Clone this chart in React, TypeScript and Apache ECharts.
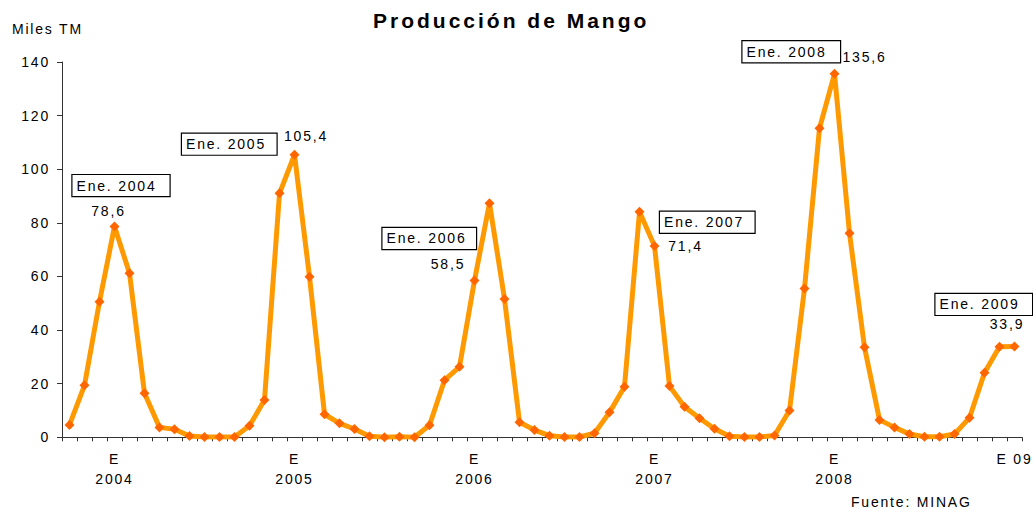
import { useEffect, useRef } from 'react';
import * as echarts from 'echarts';

const FONT = '"Liberation Sans", Arial, Helvetica, sans-serif';

// Categories: monthly, Oct 2003 .. Jan 2009
const monthNames = ['Ene', 'Feb', 'Mar', 'Abr', 'May', 'Jun', 'Jul', 'Ago', 'Set', 'Oct', 'Nov', 'Dic'];
const categories: string[] = [
  'Oct 2003', 'Nov 2003', 'Dic 2003',
  ...monthNames.map((m) => m + ' 2004'),
  ...monthNames.map((m) => m + ' 2005'),
  ...monthNames.map((m) => m + ' 2006'),
  ...monthNames.map((m) => m + ' 2007'),
  ...monthNames.map((m) => m + ' 2008'),
  'Ene 2009',
];

// Production (miles TM)
const values2003 = [4.6, 19.4, 50.6];
const values2004 = [78.6, 61.2, 16.4, 3.7, 3.0, 0.5, 0.1, 0.1, 0.1, 4.3, 13.9, 91.0];
const values2005 = [105.4, 59.9, 8.6, 5.2, 3.1, 0.4, 0.0, 0.2, 0.0, 4.5, 21.3, 26.3];
const values2006 = [58.5, 87.3, 51.6, 5.6, 2.7, 0.6, 0.1, 0.1, 1.5, 9.3, 18.9, 84.1];
const values2007 = [71.4, 19.1, 11.4, 7.1, 3.2, 0.4, 0.1, 0.1, 0.7, 10.0, 55.5, 115.3];
const values2008 = [135.6, 76.1, 33.6, 6.5, 3.7, 1.2, 0.2, 0.2, 1.2, 7.3, 24.1, 33.8];
const values2009 = [33.9];
const values = [...values2003, ...values2004, ...values2005, ...values2006, ...values2007, ...values2008, ...values2009];

// X tick labels
const tickCategories = ['Ene 2004', 'Ene 2005', 'Ene 2006', 'Ene 2007', 'Ene 2008', 'Ene 2009'];
const tickLabels = ['E\n2004', 'E\n2005', 'E\n2006', 'E\n2007', 'E\n2008', 'E 09'];

// Annotations
const annotationCategories = ['Ene 2004', 'Ene 2005', 'Ene 2006', 'Ene 2007', 'Ene 2008', 'Ene 2009'];
const annotationTexts = ['Ene. 2004', 'Ene. 2005', 'Ene. 2006', 'Ene. 2007', 'Ene. 2008', 'Ene. 2009'];

// layout of annotation boxes/labels (pixel offsets from the point)
const boxOffsets: [number, number][] = [[-42, -41], [-112.5, -10.6], [-92, -42], [5.5, -23.6], [-92, -22], [-79, -42]];
const boxWidths = [97, 94.5, 93.5, 94.5, 97.5, 96.5];
const valueOffsets: [number, number][] = [[-6, -15.6], [11.5, -19], [-26.5, -16.7], [31, 0], [30, -16.4], [-7.5, -22]];

const fmt = (v: number) => v.toFixed(1).replace('.', ',');

export default function App() {
  const ref = useRef<HTMLDivElement>(null);

  useEffect(() => {
    const chart = echarts.init(ref.current!, null, { renderer: 'svg' });

    const seriesData = values.map((v, i) => {
      const k = annotationCategories.indexOf(categories[i]);
      if (k < 0) return v;
      return {
        value: v,
        label: {
          show: true,
          position: 'inside',
          align: 'center',
          verticalAlign: 'middle',
          offset: valueOffsets[k],
          formatter: () => fmt(v),
          fontSize: 14,
          color: '#000',
          fontFamily: FONT,
        },
      };
    });

    const boxes = annotationCategories.map((c, k) => ({
      coord: [c, values[categories.indexOf(c)]],
      label: {
        show: true,
        position: 'inside',
        formatter: annotationTexts[k],
        align: 'left',
        verticalAlign: 'middle',
        offset: boxOffsets[k],
        width: boxWidths[k] - 4,
        lineHeight: 15,
        padding: [4, 0, 2, 4],
        backgroundColor: '#fff',
        borderColor: '#000',
        borderWidth: 1.2,
        fontSize: 14,
        color: '#000',
        fontFamily: FONT,
      },
    }));

    chart.setOption({
      animation: false,
      backgroundColor: '#fff',
      textStyle: { fontFamily: FONT },
      title: [
        {
          text: 'Producción de Mango',
          left: 373,
          top: 10,
          padding: 0,
          textStyle: { fontSize: 21, fontWeight: 'bold', color: '#000', fontFamily: FONT },
        },
        {
          text: 'Miles TM',
          left: 12,
          top: 22,
          padding: 0,
          textStyle: { fontSize: 14, fontWeight: 'normal', color: '#000', fontFamily: FONT },
        },
        {
          text: 'Fuente: MINAG',
          left: 851,
          top: 495,
          padding: 0,
          textStyle: { fontSize: 14, fontWeight: 'normal', color: '#000', fontFamily: FONT },
        },
      ],
      grid: { left: 62, right: 11, top: 62, bottom: 71.7, containLabel: false },
      xAxis: {
        type: 'category',
        data: categories,
        boundaryGap: true,
        axisLine: { show: true, lineStyle: { color: '#333', width: 1 } },
        axisTick: { show: true, interval: 0, length: 4, lineStyle: { color: '#333' } },
        axisLabel: {
          interval: 0,
          formatter: (v: string) => {
            const k = tickCategories.indexOf(v);
            return k >= 0 ? tickLabels[k] : '';
          },
          fontSize: 14,
          color: '#000',
          fontFamily: FONT,
          lineHeight: 19.5,
          margin: 12,
        },
        splitLine: { show: false },
      },
      yAxis: {
        type: 'value',
        min: 0,
        max: 140,
        interval: 20,
        splitLine: { show: false },
        axisLine: { show: true, lineStyle: { color: '#333', width: 1 } },
        axisTick: { show: true, length: 5, lineStyle: { color: '#333' } },
        axisLabel: { fontSize: 14, color: '#000', margin: 12, fontFamily: FONT },
      },
      series: [
        {
          type: 'line',
          data: seriesData,
          symbol: 'diamond',
          symbolSize: 10,
          showAllSymbol: true,
          lineStyle: { color: '#FF9900', width: 5 },
          itemStyle: { color: '#FF6600' },
          label: { show: false },
          markPoint: {
            symbol: 'rect',
            symbolSize: 1,
            silent: true,
            itemStyle: { color: 'rgba(0,0,0,0)' },
            data: boxes,
          },
        },
      ],
    });

    return () => chart.dispose();
  }, []);

  const css = `
    #mango-chart text { letter-spacing: 1.8px; }
    #mango-chart text[style*="bold"] { letter-spacing: 3px; }
  `;

  return (
    <>
      <style>{css}</style>
      <div
        id="mango-chart"
        ref={ref}
        style={{ position: 'fixed', left: 0, top: 0, width: 1033, height: 509 }}
      />
    </>
  );
}
